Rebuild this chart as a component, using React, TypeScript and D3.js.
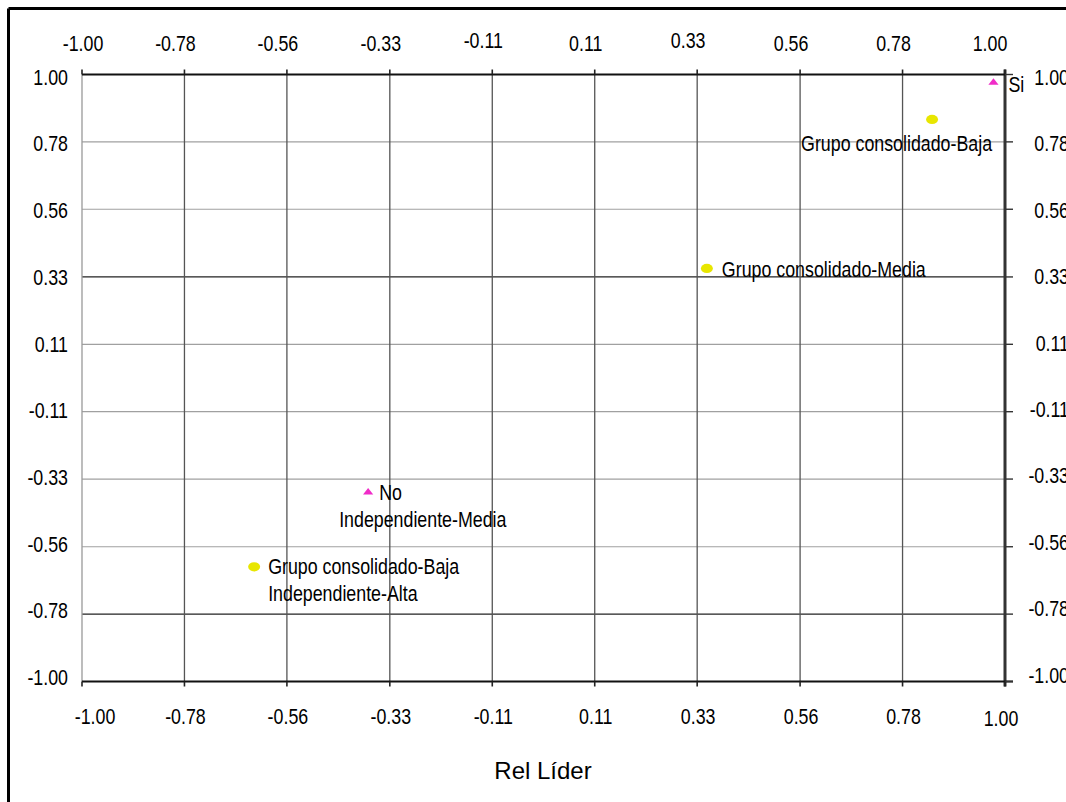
import React from "react";
import * as d3 from "d3";

// ---- data ----
const tickValues = [-1, -0.778, -0.556, -0.333, -0.111, 0.111, 0.333, 0.556, 0.778, 1];
const darkHorizontal = [0.333, -0.778];

// category points (magenta triangles)
const catLabels = ["Si", "No"];
const catX = [0.975, -0.38];
const catY = [0.975, -0.375];

// group points (yellow ellipses)
const grpLabels = ["Grupo consolidado-Baja", "Grupo consolidado-Media", "Grupo consolidado-Baja"];
const grpX = [0.842, 0.354, -0.627];
const grpY = [0.852, 0.361, -0.622];

// labels of points hidden under others
const extraLabels = ["Independiente-Media", "Independiente-Alta"];
const extraX = [-0.38, -0.627];
const extraY = [-0.375, -0.622];

const axisTitle = "Rel Líder";

const W = 1066;
const H = 802;
const FONT = "'Liberation Sans', Arial, sans-serif";
const SX = 0.81;
const FS = 22;

const x = d3.scaleLinear().domain([-1, 1]).range([82, 1005]);
const y = d3.scaleLinear().domain([-1, 1]).range([681.5, 74.5]);
const yLabL = d3.scaleLinear().domain([-1, 1]).range([677, 76.7]);
const yLabR = d3.scaleLinear().domain([-1, 1]).range([674.5, 77]);

function T({ px, py, anchor = "start", size = FS, sx = SX, children }: any) {
  return (
    <text
      transform={`translate(${px},${py}) scale(${sx},1)`}
      textAnchor={anchor}
      fontFamily={FONT}
      fontSize={size}
      fill="#000"
    >
      {children}
    </text>
  );
}

const fmt = (v: number) => v.toFixed(2);

export default function App() {
  const tri = d3.symbol().type(d3.symbolTriangle).size(34)() as string;
  const last = tickValues.length - 1;

  // label placements (pixel offsets from the point)
  const catPlace = [
    { dx: 15, dy: 9.5, anchor: "start" },
    { dx: 11, dy: 8.5, anchor: "start" },
  ];
  const grpPlace = [
    { dx: 60, dy: 31.5, anchor: "end" },
    { dx: 15, dy: 8.5, anchor: "start" },
    { dx: 14, dy: 7.5, anchor: "start" },
  ];
  const extraPlace = [
    { dx: -29, dy: 35.5, anchor: "start" },
    { dx: 14, dy: 34.5, anchor: "start" },
  ];

  return (
    <svg
      width={W}
      height={H}
      style={{ position: "fixed", left: 0, top: 0, background: "#fff" }}
    >
      <rect x={0} y={0} width={W} height={H} fill="#fff" />
      {/* outer frame (left & top visible) */}
      <line x1={8.5} y1={8.5} x2={8.5} y2={H} stroke="#000" strokeWidth={3} />
      <line x1={8.5} y1={8.5} x2={W} y2={8.5} stroke="#000" strokeWidth={3} />

      {/* horizontal grid */}
      {tickValues.map((v, i) => {
        if (i === 0 || i === last) return null;
        const dark = darkHorizontal.includes(v);
        return (
          <line
            key={"h" + i}
            x1={x(-1)}
            x2={x(1)}
            y1={y(v)}
            y2={y(v)}
            stroke={dark ? "#222" : "#a0a0a0"}
            strokeWidth={dark ? 1.3 : 1.2}
          />
        );
      })}
      {/* vertical grid */}
      {tickValues.map((v, i) => {
        if (i === last) return null;
        return (
          <line
            key={"v" + i}
            x1={x(v)}
            x2={x(v)}
            y1={y(1)}
            y2={y(-1)}
            stroke={i === 0 ? "#999" : "#555"}
            strokeWidth={1.3}
          />
        );
      })}
      {/* right edge */}
      <line x1={x(1)} x2={x(1)} y1={y(1) - 5} y2={y(-1) + 5} stroke="#333" strokeWidth={3} />
      {/* top and bottom axes */}
      <line x1={x(-1)} x2={x(1)} y1={y(1)} y2={y(1)} stroke="#111" strokeWidth={2.2} />
      <line x1={x(-1)} x2={x(1) + 8} y1={y(-1)} y2={y(-1)} stroke="#111" strokeWidth={2.2} />

      {/* ticks */}
      {tickValues.map((v, i) => (
        <g key={"t" + i}>
          <line x1={x(v)} x2={x(v)} y1={y(1) - 5} y2={y(1)} stroke="#222" strokeWidth={1.6} />
          <line x1={x(v)} x2={x(v)} y1={y(-1)} y2={y(-1) + 5} stroke="#222" strokeWidth={1.6} />
          <line x1={x(1)} x2={x(1) + 8} y1={y(v)} y2={y(v)} stroke="#333" strokeWidth={1.4} />
        </g>
      ))}

      {/* top tick labels */}
      {tickValues.map((v, i) => {
        const dx = i === 0 ? 1 : i === last ? -15 : -9;
        const by = v === -0.111 || v === 0.333 ? 47.5 : 51;
        return (
          <T key={"tl" + i} px={x(v) + dx} py={by} anchor="middle">
            {fmt(v)}
          </T>
        );
      })}
      {/* bottom tick labels */}
      {tickValues.map((v, i) => {
        const dx = i === 0 ? 13 : i === last ? -4 : 1;
        return (
          <T key={"bl" + i} px={x(v) + dx} py={i === last ? 726 : 723.5} anchor="middle">
            {fmt(v)}
          </T>
        );
      })}
      {/* left tick labels */}
      {tickValues.map((v, i) => (
        <T key={"ll" + i} px={68} py={yLabL(v) + 8} anchor="end">
          {fmt(v)}
        </T>
      ))}
      {/* right tick labels */}
      {tickValues.map((v, i) => (
        <T key={"rl" + i} px={1069} py={yLabR(v) + 8} anchor="end">
          {fmt(v)}
        </T>
      ))}

      {/* group points */}
      {grpX.map((gx, i) => (
        <ellipse key={"g" + i} cx={x(gx)} cy={y(grpY[i])} rx={6} ry={4.6} fill="#e8e600" />
      ))}
      {/* category points */}
      {catX.map((cx, i) => (
        <path
          key={"c" + i}
          d={tri}
          transform={`translate(${x(cx)},${y(catY[i]) + 0.5}) scale(1.15,0.85)`}
          fill="#f02cc8"
        />
      ))}

      {/* point labels */}
      {grpLabels.map((l, i) => (
        <T
          key={"gl" + i}
          px={x(grpX[i]) + grpPlace[i].dx}
          py={y(grpY[i]) + grpPlace[i].dy}
          anchor={grpPlace[i].anchor}
        >
          {l}
        </T>
      ))}
      {catLabels.map((l, i) => (
        <T
          key={"cl" + i}
          px={x(catX[i]) + catPlace[i].dx}
          py={y(catY[i]) + catPlace[i].dy}
          anchor={catPlace[i].anchor}
        >
          {l}
        </T>
      ))}
      {extraLabels.map((l, i) => (
        <T
          key={"el" + i}
          px={x(extraX[i]) + extraPlace[i].dx}
          py={y(extraY[i]) + extraPlace[i].dy}
          anchor={extraPlace[i].anchor}
        >
          {l}
        </T>
      ))}

      {/* axis title */}
      <T px={543} py={779} anchor="middle" size={24} sx={1}>
        {axisTitle}
      </T>
    </svg>
  );
}
